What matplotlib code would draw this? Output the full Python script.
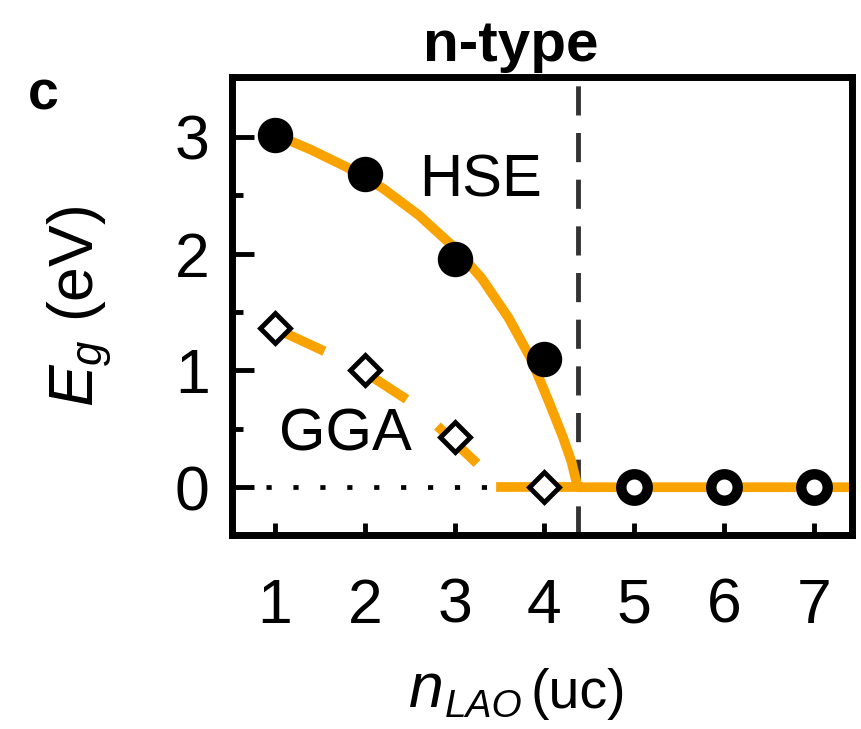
import matplotlib
matplotlib.use("Agg")
import matplotlib.pyplot as plt
from matplotlib.ticker import MultipleLocator

plt.rcParams['font.family'] = ['Liberation Sans', 'DejaVu Sans']
plt.rcParams['mathtext.fontset'] = 'custom'
plt.rcParams['mathtext.rm'] = 'Liberation Sans'
plt.rcParams['mathtext.it'] = 'Liberation Sans:italic'

# computed band gaps (eV) vs LAO thickness (unit cells)
n_lao = [1, 2, 3, 4, 5, 6, 7]
hse_gap = [3.02, 2.68, 1.95, 1.10]          # insulating, n = 1..4
gga_gap = [1.36, 1.00, 0.43, 0.0]           # n = 1..4
metal_n = [5, 6, 7]
metal_gap = [0.0, 0.0, 0.0]

# fitted guide curves
hse_fit_x = [1.0, 1.4, 1.8, 2.2, 2.6, 3.0, 3.3, 3.6, 3.85, 4.05, 4.2, 4.3, 4.37, 7.6]
hse_fit_y = [3.02, 2.89, 2.74, 2.56, 2.33, 2.05, 1.79, 1.45, 1.10, 0.73, 0.44, 0.22, 0.0, 0.0]
gga_fit_x = [1.0, 1.17, 1.59, 2.09, 2.47, 2.80, 3.24, 3.52]
gga_fit_y = [1.36, 1.30, 1.15, 0.94, 0.75, 0.53, 0.21, 0.0]
gga_metal_x = [3.52, 4.37]
n_crit = 4.37

orange = '#f9a300'

fig = plt.figure(figsize=(8.62, 7.29), dpi=100)
ax = fig.add_axes([0.269, 0.266, 0.719, 0.628])

ax.plot([0.9, 3.42], [0, 0], color='black', lw=3.4, dashes=[1.1, 4.6])
ax.plot(hse_fit_x, hse_fit_y, color=orange, lw=7, solid_capstyle='butt',
        solid_joinstyle='round', zorder=2)
ax.plot(gga_fit_x, gga_fit_y, color=orange, lw=7, dashes=[5.6, 4.2], zorder=2)
ax.plot(gga_metal_x, [0, 0], color=orange, lw=7, zorder=2)
ax.axvline(n_crit, color='#333333', lw=3.5, dashes=[6, 3.6], zorder=1)

ax.plot(n_lao[:4], hse_gap, 'o', color='black', ms=24.5, zorder=4)
ax.plot(n_lao[:4], gga_gap, 'D', mfc='white', mec='black', ms=15, mew=3.5, zorder=4)
ax.plot(metal_n, metal_gap, 'o', mfc='white', mec='black', ms=19, mew=7.5, zorder=4)

ax.text(2.6, 2.62, 'HSE', fontsize=43, va='center', ha='left')
ax.text(1.05, 0.45, 'GGA', fontsize=43, va='center', ha='left')

ax.set_xlim(0.52, 7.42)
ax.set_ylim(-0.41, 3.51)
ax.set_xticks(n_lao)
ax.set_yticks([0, 1, 2, 3])
ax.yaxis.set_minor_locator(MultipleLocator(0.5))
ax.tick_params(axis='both', which='major', direction='in', labelsize=45, width=3.5)
ax.tick_params(axis='x', which='major', length=9, pad=30)
ax.tick_params(axis='y', which='major', length=16, pad=16)
ax.tick_params(axis='y', which='minor', direction='in', length=8, width=3.5)
for sp in ax.spines.values():
    sp.set_linewidth(5)

# x label built in pieces: italic n, small italic LAO subscript, then (uc)
t_n = ax.text(0.285, -0.375, 'n', transform=ax.transAxes, fontsize=45,
              style='italic', ha='left', va='baseline')
t_sub = ax.annotate('LAO', xy=(1, 0), xycoords=t_n, xytext=(1, -4),
                    textcoords='offset points', fontsize=28, style='italic',
                    ha='left', va='bottom')
ax.annotate('(uc)', xy=(1, 0), xycoords=t_sub, xytext=(6, 4),
            textcoords='offset points', fontsize=40, ha='left', va='bottom')

ax.set_ylabel(r'$E_g$ (eV)', fontsize=45, labelpad=44)
ax.set_title('n-type', fontsize=42, fontweight='bold', pad=12, x=0.45)
fig.text(0.032, 0.85, 'c', fontsize=40, fontweight='bold')

fig.savefig('out.png', dpi=100)
